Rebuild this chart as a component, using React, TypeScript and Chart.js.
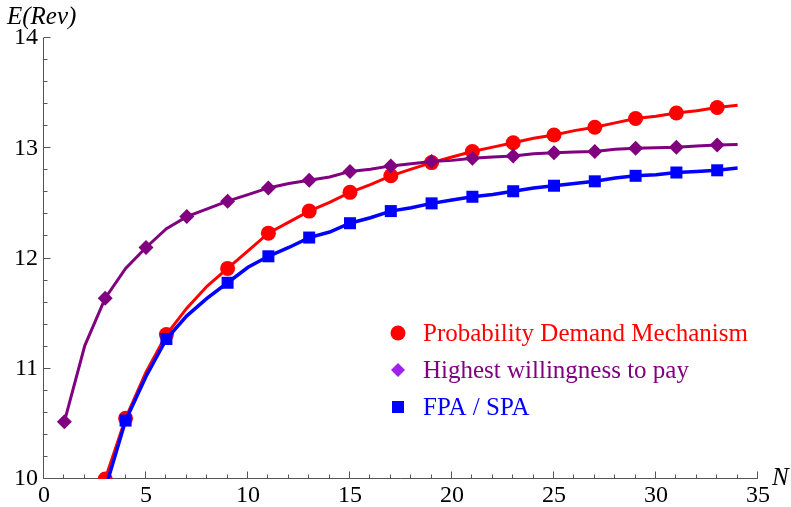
import React, { useEffect, useRef } from 'react';
import { Chart, registerables } from 'chart.js';

Chart.register(...registerables);

// ---- Data ----
const pdmN = [3, 4, 5, 6, 7, 8, 9, 10, 11, 12, 13, 14, 15, 16, 17, 18, 19, 20, 21, 22, 23, 24, 25, 26, 27, 28, 29, 30, 31, 32, 33, 34];
const pdmRev = [10.0, 10.55, 10.97, 11.31, 11.55, 11.75, 11.91, 12.07, 12.23, 12.33, 12.43, 12.51, 12.6, 12.67, 12.75, 12.81, 12.87, 12.92, 12.97, 13.01, 13.05, 13.09, 13.12, 13.16, 13.19, 13.23, 13.27, 13.29, 13.32, 13.34, 13.37, 13.39];
const pdmMarkerN = [3, 4, 6, 9, 11, 13, 15, 17, 19, 21, 23, 25, 27, 29, 31, 33];

const hwtpN = [1, 2, 3, 4, 5, 6, 7, 8, 9, 10, 11, 12, 13, 14, 15, 16, 17, 18, 19, 20, 21, 22, 23, 24, 25, 26, 27, 28, 29, 30, 31, 32, 33, 34];
const hwtpRev = [10.52, 11.21, 11.64, 11.91, 12.1, 12.27, 12.38, 12.45, 12.52, 12.58, 12.64, 12.68, 12.71, 12.74, 12.79, 12.81, 12.84, 12.86, 12.88, 12.89, 12.91, 12.92, 12.93, 12.95, 12.96, 12.965, 12.97, 12.99, 13.0, 13.005, 13.01, 13.02, 13.03, 13.035];
const hwtpMarkerN = [1, 3, 5, 7, 9, 11, 13, 15, 17, 19, 21, 23, 25, 27, 29, 31, 33];

const fpaN = [3, 4, 5, 6, 7, 8, 9, 10, 11, 12, 13, 14, 15, 16, 17, 18, 19, 20, 21, 22, 23, 24, 25, 26, 27, 28, 29, 30, 31, 32, 33, 34];
const fpaRev = [9.91, 10.53, 10.93, 11.27, 11.48, 11.64, 11.78, 11.92, 12.02, 12.1, 12.19, 12.24, 12.32, 12.37, 12.43, 12.46, 12.5, 12.53, 12.56, 12.58, 12.61, 12.64, 12.66, 12.68, 12.7, 12.73, 12.75, 12.76, 12.78, 12.79, 12.8, 12.82];
const fpaMarkerN = [4, 6, 9, 11, 13, 15, 17, 19, 21, 23, 25, 27, 29, 31, 33];

const legendLabels = ['Probability Demand Mechanism', 'Highest willingness to pay', 'FPA / SPA'];
const xTickStep = 5;
const xMinorStep = 1;
const yTickStep = 1;
const yMinorStep = 0.2;
const xMin = 0, xMax = 35, yMin = 10, yMax = 14;

const SERIF = '"Liberation Serif", "DejaVu Serif", serif';

const toPoints = (xs: number[], ys: number[]) => xs.map((x, i) => ({ x, y: ys[i] }));

const markerRadius = (markers: number[], r: number) => (ctx: any) => {
  const raw = ctx.raw as { x: number } | undefined;
  return raw && markers.includes(raw.x) ? r : 0;
};

const axesPlugin = {
  id: 'mmaAxes',
  beforeDatasetsDraw(chart: any) {
    const { ctx, scales } = chart;
    const xs = scales.x, ys = scales.y;
    const px0 = Math.round(xs.getPixelForValue(xMin)) - 0.5;
    const px1 = xs.getPixelForValue(xMax);
    const py0 = Math.round(ys.getPixelForValue(yMin)) - 0.5;
    const py1 = ys.getPixelForValue(yMax);
    ctx.save();
    ctx.strokeStyle = '#555';
    ctx.lineWidth = 1;
    ctx.beginPath();
    ctx.moveTo(px0, py0);
    ctx.lineTo(px1, py0);
    ctx.moveTo(px0, py0);
    ctx.lineTo(px0, py1);
    // x ticks
    for (let v = xMin; v <= xMax + 1e-9; v += xMinorStep) {
      const p = Math.round(xs.getPixelForValue(v)) - 0.5;
      const major = Math.abs(v / xTickStep - Math.round(v / xTickStep)) < 1e-6;
      const len = major ? 7 : 4;
      ctx.moveTo(p, py0);
      ctx.lineTo(p, py0 - len);
    }
    // y ticks
    const nY = Math.round((yMax - yMin) / yMinorStep);
    for (let i = 0; i <= nY; i++) {
      const v = yMin + i * yMinorStep;
      const p = Math.round(ys.getPixelForValue(v)) - 0.5;
      const major = Math.abs(v / yTickStep - Math.round(v / yTickStep)) < 1e-6;
      const len = major ? 7 : 4;
      ctx.moveTo(px0, p);
      ctx.lineTo(px0 + len, p);
    }
    ctx.stroke();
    ctx.restore();
  },
  afterDraw(chart: any) {
    const { ctx, scales, chartArea } = chart;
    const xs = scales.x, ys = scales.y;
    ctx.save();
    // axis labels
    ctx.fillStyle = '#000';
    ctx.font = `italic 25px ${SERIF}`;
    ctx.textAlign = 'left';
    ctx.textBaseline = 'alphabetic';
    ctx.fillText('E(Rev)', 7, 24);
    ctx.fillText('N', xs.getPixelForValue(xMax) + 14, ys.getPixelForValue(yMin) + 6);

    // legend
    const lx = 398;
    const rows = [333, 370, 407];
    const colors = ['#ff0000', '#800080', '#0000ff'];
    ctx.font = `25px ${SERIF}`;
    ctx.textBaseline = 'middle';
    rows.forEach((cy, i) => {
      ctx.fillStyle = colors[i];
      ctx.fillText(legendLabels[i], lx + 25, cy + 1);
    });
    // markers
    ctx.fillStyle = '#ff0000';
    ctx.beginPath();
    ctx.arc(lx, rows[0], 7.5, 0, Math.PI * 2);
    ctx.fill();
    ctx.fillStyle = '#a020f0';
    ctx.beginPath();
    ctx.moveTo(lx - 7, rows[1]);
    ctx.lineTo(lx, rows[1] - 7);
    ctx.lineTo(lx + 7, rows[1]);
    ctx.lineTo(lx, rows[1] + 7);
    ctx.closePath();
    ctx.fill();
    ctx.fillStyle = '#0000ff';
    ctx.fillRect(lx - 6, rows[2] - 6, 12, 12);
    ctx.restore();
  },
};

export default function App() {
  const canvasRef = useRef<HTMLCanvasElement | null>(null);

  useEffect(() => {
    if (!canvasRef.current) return;
    const chart = new Chart(canvasRef.current, {
      type: 'line',
      data: {
        datasets: [
          {
            label: legendLabels[0],
            data: toPoints(pdmN, pdmRev),
            borderColor: '#ff0000',
            backgroundColor: '#ff0000',
            borderWidth: 3,
            pointStyle: 'circle',
            pointRadius: markerRadius(pdmMarkerN, 7.5),
            pointBorderWidth: 0,
            pointHoverRadius: 0,
            tension: 0,
            order: 3,
            clip: { left: 10, top: 10, right: 10, bottom: 0 },
          },
          {
            label: legendLabels[1],
            data: toPoints(hwtpN, hwtpRev),
            borderColor: '#800080',
            backgroundColor: '#800080',
            borderWidth: 3,
            pointStyle: 'rectRot',
            pointRadius: markerRadius(hwtpMarkerN, 7.5),
            pointBorderWidth: 0,
            pointHoverRadius: 0,
            tension: 0,
            order: 1,
            clip: { left: 10, top: 10, right: 10, bottom: 0 },
          },
          {
            label: legendLabels[2],
            data: toPoints(fpaN, fpaRev),
            borderColor: '#0000ff',
            backgroundColor: '#0000ff',
            borderWidth: 3.5,
            pointStyle: 'rect',
            pointRadius: markerRadius(fpaMarkerN, 8.5),
            pointBorderWidth: 0,
            pointHoverRadius: 0,
            tension: 0,
            order: 2,
            clip: { left: 10, top: 10, right: 10, bottom: 0 },
          },
        ] as any,
      },
      options: {
        animation: false,
        responsive: true,
        maintainAspectRatio: false,
        events: [],
        layout: { padding: { top: 38, right: 33, left: 0, bottom: 0 } },
        plugins: {
          legend: { display: false },
          tooltip: { enabled: false },
        },
        scales: {
          x: {
            type: 'linear',
            min: xMin,
            max: xMax,
            grid: { display: false, drawTicks: false },
            border: { display: false },
            ticks: {
              stepSize: xTickStep,
              autoSkip: false,
              maxRotation: 0,
              color: '#000',
              padding: 2,
              font: { family: SERIF, size: 24 },
            },
            afterFit: (s: any) => {
              s.height = 28;
            },
          },
          y: {
            type: 'linear',
            min: yMin,
            max: yMax,
            grid: { display: false, drawTicks: false },
            border: { display: false },
            ticks: {
              stepSize: yTickStep,
              color: '#000',
              padding: 6,
              font: { family: SERIF, size: 24 },
            },
            afterFit: (s: any) => {
              s.width = 44;
            },
          },
        },
      },
      plugins: [axesPlugin],
    });
    return () => chart.destroy();
  }, []);

  return (
    <div style={{ position: 'absolute', left: 0, top: 0, width: 791, height: 507, background: '#fff' }}>
      <canvas ref={canvasRef} />
    </div>
  );
}
